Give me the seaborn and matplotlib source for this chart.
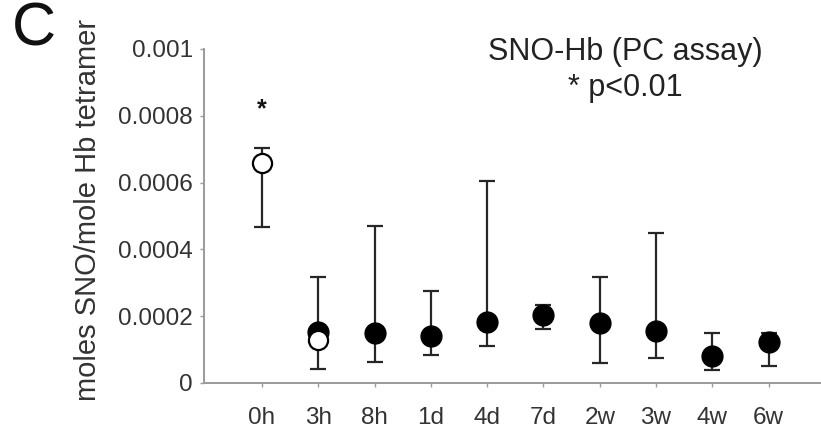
import numpy as np
import pandas as pd
import matplotlib
matplotlib.use("Agg")
import matplotlib.pyplot as plt
import seaborn as sns

# ---- data ----
time_labels = ["0h", "3h", "8h", "1d", "4d", "7d", "2w", "3w", "4w", "6w"]

filled_times = ["3h", "8h", "1d", "4d", "7d", "2w", "3w", "4w", "6w"]
filled_mean = [0.000152, 0.000149, 0.000140, 0.000184, 0.000204, 0.000179, 0.000156, 0.000082, 0.000122]
filled_upper = [0.000316, 0.000470, 0.000274, 0.000605, 0.000234, 0.000316, 0.000449, 0.000150, 0.000149]
filled_lower = [0.000041, 0.000062, 0.000085, 0.000110, 0.000161, 0.000059, 0.000074, 0.000039, 0.000050]

open_times = ["0h", "3h"]
open_mean = [0.000660, 0.000128]
open_upper = [0.000705, np.nan]
open_lower = [0.000466, np.nan]

yticks = [0, 0.0002, 0.0004, 0.0006, 0.0008, 0.001]
ytick_labels = ["0", "0.0002", "0.0004", "0.0006", "0.0008", "0.001"]

title_lines = ["SNO-Hb (PC assay)", "* p<0.01"]
ylabel = "moles SNO/mole Hb tetramer"
panel = "C"

# ---- build frames ----
pos = {t: i for i, t in enumerate(time_labels)}
df_f = pd.DataFrame({"time": filled_times, "mean": filled_mean,
                     "upper": filled_upper, "lower": filled_lower})
df_f["x"] = df_f["time"].map(pos)
df_o = pd.DataFrame({"time": open_times, "mean": open_mean,
                     "upper": open_upper, "lower": open_lower})
df_o["x"] = df_o["time"].map(pos)

sns.set_style("ticks")
plt.rcParams["font.family"] = ["Liberation Sans", "DejaVu Sans"]

fig = plt.figure(figsize=(8.21, 4.33), dpi=100)
ax = fig.add_axes([0.2485, 0.1155, 0.7515, 0.7714])

ecol = "#262626"
# error bars
for d in (df_f, df_o.dropna()):
    ax.errorbar(d["x"], d["mean"],
                yerr=[d["mean"] - d["lower"], d["upper"] - d["mean"]],
                fmt="none", ecolor=ecol, elinewidth=1.6, capsize=5.5,
                capthick=1.6, zorder=2)

sns.scatterplot(data=df_f, x="x", y="mean", ax=ax, color="black",
                s=225, edgecolor="black", linewidth=1, zorder=3, legend=False)
sns.scatterplot(data=df_o, x="x", y="mean", ax=ax, color="white",
                s=190, edgecolor="black", linewidth=1.6, zorder=4, legend=False)

ax.set_xlim(-1.03, 9.93)
ax.set_ylim(0, 0.001)
ax.set_xticks(range(len(time_labels)))
ax.set_xticklabels(time_labels)
ax.set_yticks(yticks)
ax.set_yticklabels(ytick_labels)
ax.set_xlabel("")
ax.set_ylabel("")

for s in ("top", "right"):
    ax.spines[s].set_visible(False)
for s in ("left", "bottom"):
    ax.spines[s].set_color("#9a9a9a")
    ax.spines[s].set_linewidth(1.4)

ax.tick_params(axis="y", direction="out", length=3, width=1, color="#9a9a9a",
               labelsize=17.5, labelcolor="#333333", pad=5)
ax.tick_params(axis="x", direction="out", length=3, width=1, color="#9a9a9a",
               labelsize=17.5, labelcolor="#333333", pad=14)

# significance star over 0h
ax.text(0, 0.00082, "*", ha="center", va="center", fontsize=18,
        color="#111111", fontweight="bold")

fig.text(625 / 821, 1 - 52 / 433, title_lines[0], ha="center", va="center",
         fontsize=22, color="#222222")
fig.text(625 / 821, 1 - 88 / 433, title_lines[1], ha="center", va="center",
         fontsize=22, color="#222222")
fig.text(88 / 821, 1 - 210 / 433, ylabel, ha="center", va="center",
         rotation=90, fontsize=21, color="#333333")
fig.text(34 / 821, 1 - 30 / 433, panel, ha="center", va="center",
         fontsize=44, color="#111111")

fig.savefig("out.png", dpi=100, facecolor="white")
